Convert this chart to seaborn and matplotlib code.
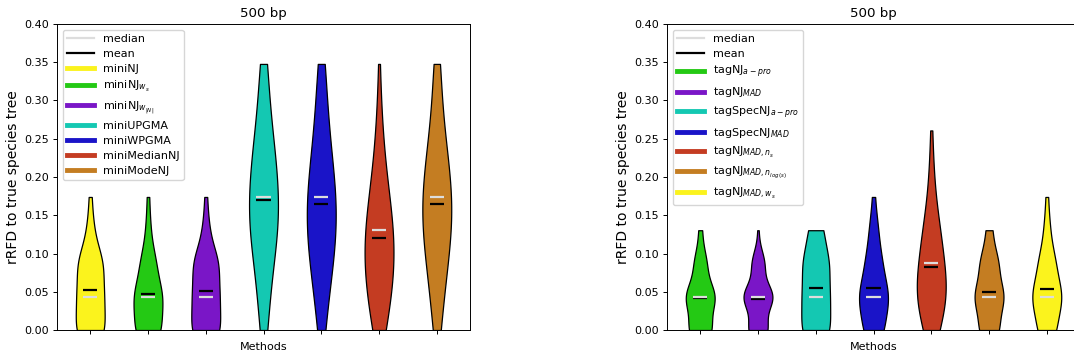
import numpy as np
import pandas as pd
import seaborn as sns
import matplotlib.pyplot as plt
from matplotlib.lines import Line2D

# rRFD values come in steps of 1/23 (26 taxa); number of replicates at each step
rf_steps = np.arange(9) / 23

mini_methods = ["miniNJ", r"miniNJ$_{w_s}$", r"miniNJ$_{w_{|N|}}$", "miniUPGMA",
                "miniWPGMA", "miniMedianNJ", "miniModeNJ"]
mini_colors = ["#fbf31d", "#24c914", "#7a16c7", "#14c8b2", "#1a14c8", "#c43c22", "#c47d22"]
mini_counts = [
    [22, 19, 19, 5, 2],
    [22, 24, 13, 4, 2],
    [23, 20, 20, 5, 2],
    [5, 7, 11, 18, 18, 15, 10, 6, 5],
    [5, 8, 14, 18, 18, 13, 9, 6, 5],
    [8, 14, 18, 17, 12, 7, 4, 2, 1],
    [5, 8, 13, 18, 19, 14, 9, 5, 5],
]

tag_methods = [r"tagNJ$_{a-pro}$", r"tagNJ$_{MAD}$", r"tagSpecNJ$_{a-pro}$",
               r"tagSpecNJ$_{MAD}$", r"tagNJ$_{MAD,n_s}$", r"tagNJ$_{MAD,n_{log(s)}}$",
               r"tagNJ$_{MAD,w_s}$"]
tag_colors = ["#24c914", "#7a16c7", "#14c8b2", "#1a14c8", "#c43c22", "#c47d22", "#fbf31d"]
tag_counts = [
    [20, 26, 11, 3],
    [18, 28, 12, 1],
    [20, 18, 18, 10],
    [16, 24, 13, 7, 2],
    [8, 17, 13, 9, 4, 2, 1],
    [16, 24, 15, 5],
    [15, 25, 14, 5, 2],
]

y_ticks = np.arange(0, 0.401, 0.05)

plt.rcParams["axes.linewidth"] = 0.7
plt.rcParams["xtick.major.size"] = 2.8
plt.rcParams["ytick.major.size"] = 2.8
plt.rcParams["xtick.major.width"] = 0.7
plt.rcParams["ytick.major.width"] = 0.7
plt.rcParams["xtick.major.pad"] = 2.8
plt.rcParams["ytick.major.pad"] = 2.8


def to_frame(methods, counts):
    parts = []
    for m, c in zip(methods, counts):
        vals = np.repeat(rf_steps[:len(c)], c)
        parts.append(pd.DataFrame({"method": m, "rRFD": vals}))
    return pd.concat(parts, ignore_index=True)


def draw(ax, methods, colors, counts):
    df = to_frame(methods, counts)
    sns.violinplot(data=df, x="method", y="rRFD", hue="method", order=methods,
                   hue_order=methods, palette=colors, legend=False, cut=0,
                   inner=None, width=0.5, density_norm="width", linewidth=0.9,
                   linecolor="black", saturation=1, bw_adjust=1.2, ax=ax)
    stats = df.groupby("method", sort=False)["rRFD"].agg(["mean", "median"]).reindex(methods)
    pos = np.arange(len(methods))
    ax.hlines(stats["mean"], pos - 0.125, pos + 0.125, color="black", lw=1.6, zorder=3)
    ax.hlines(stats["median"], pos - 0.125, pos + 0.125, color="#dddddd", lw=1.6, zorder=4)

    ax.set_xlim(-0.575, len(methods) - 0.425)
    ax.set_ylim(0, 0.40)
    ax.set_yticks(y_ticks)
    ax.set_yticklabels([f"{v:.2f}" for v in y_ticks], fontsize=8)
    ax.set_xticks(pos)
    ax.set_xticklabels([])
    ax.set_xlabel("Methods", fontsize=8, labelpad=3.2)
    ax.set_ylabel("rRFD to true species tree", fontsize=10, labelpad=3.2)
    ax.set_title("500 bp", fontsize=9.6, pad=4.8)

    handles = [Line2D([], [], color="#dddddd", lw=1.6, label="median"),
               Line2D([], [], color="black", lw=1.6, label="mean")]
    handles += [Line2D([], [], color=c, lw=3.5, label=m) for m, c in zip(methods, colors)]
    ax.legend(handles=handles, loc="upper left", fontsize=8, handlelength=2.4,
              labelspacing=0.45)


fig = plt.figure(figsize=(10.74, 3.58), dpi=100)
ax1 = fig.add_axes([57 / 1074, 28 / 358, 413 / 1074, 306 / 358])
ax2 = fig.add_axes([667 / 1074, 28 / 358, 413 / 1074, 306 / 358])

draw(ax1, mini_methods, mini_colors, mini_counts)
draw(ax2, tag_methods, tag_colors, tag_counts)

fig.savefig("out.png", dpi=100)
